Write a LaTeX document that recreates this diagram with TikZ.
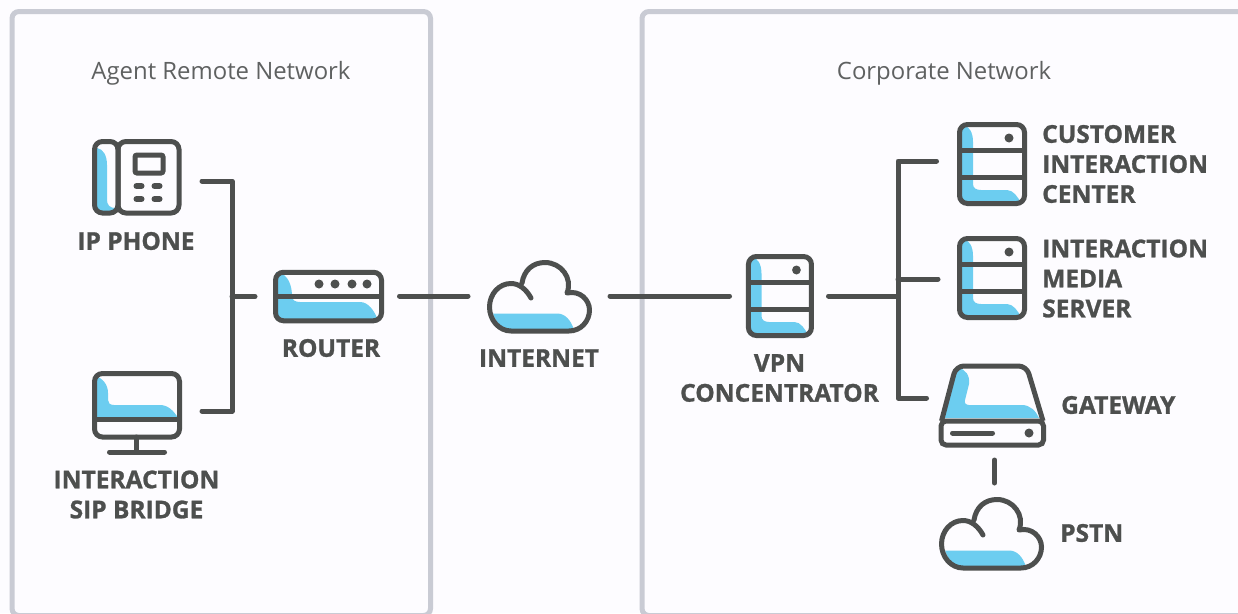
\documentclass[tikz,border=0pt]{standalone}
\usepackage{fontspec}
\setmainfont{Open Sans}
\newfontfamily\heavyfont{Open Sans}[BoldFeatures={FakeBold=1.1}]
\definecolor{ink}{HTML}{4D4F4E}
\definecolor{skyfill}{HTML}{6CCDF0}
\definecolor{panelgrey}{HTML}{C9CBD4}
\definecolor{titlegrey}{HTML}{5F6161}
\definecolor{paper}{HTML}{FDFCFF}
\tikzset{
    wire/.style={ink, line width=5pt, line cap=round, line join=round},
    outline/.style={draw=ink, line width=5pt, rounded corners=8pt},
    thinrule/.style={ink, line width=5pt},
    panel/.style={draw=panelgrey, line width=5pt, rounded corners=7pt},
    nettitle/.style={text=titlegrey, font=\fontsize{23.9}{28}\selectfont},
    devlabel/.style={text=ink, font=\fontsize{24.5}{30}\selectfont\heavyfont\bfseries, inner sep=0pt},
    pics/servericon/.style={code={
        \fill[skyfill] (3,3) -- (6,3) .. controls (12,4) and (16,10) .. (16,20) -- (16,62)
            .. controls (16,66) and (19,68) .. (24,68) -- (50,68)
            .. controls (56,68) and (61,75) .. (64,81) -- (3,81) -- cycle;
        \draw[outline] (2.5,2.5) rectangle (67.5,81.5);
        \draw[thinrule] (2.5,28) -- (67.5,28);
        \draw[thinrule] (2.5,55) -- (67.5,55);
        \fill[ink] (52,16) circle (4.5);
    }},
    pics/cloudicon/.style={code={
        \fill[skyfill] (6,53.5) -- (70,53.5) .. controls (78,53.5) and (84,60) .. (87,70)
            -- (24,70) .. controls (15,70) and (9,62) .. (6,53.5) -- cycle;
        \draw[wire] (44,38) .. controls (39,29) and (32,23.5) .. (24,23.5)
            .. controls (12,23.5) and (2.5,34) .. (2.5,47)
            .. controls (2.5,60) and (12,71) .. (24,71) -- (82,71)
            .. controls (94,71) and (102.5,61) .. (102.5,50)
            .. controls (102.5,40) and (93,30) .. (80,33)
            .. controls (86,18) and (74,2.5) .. (58,2.5)
            .. controls (46,2.5) and (37,10) .. (35,23);
    }}
}
\begin{document}
\begin{tikzpicture}[x=1pt, y=-1pt]
    \clip (0,0) rectangle (1238,613);
    \fill[paper] (0,0) rectangle (1238,613);

    \draw[panel] (12,11.5) rectangle (430.5,615.5);
    \draw[panel] (642,11.5) rectangle (1260,615.5);

    \node[nettitle] (agenttitle) at (221,73) {Agent Remote Network};
    \node[nettitle] (corptitle) at (944,73) {Corporate Network};

    % ip phone
    \fill[skyfill] (97,148) .. controls (103,149) and (107,155) .. (107,165) -- (107,200)
        .. controls (107,205) and (110,208) .. (115,208) -- (115,211) -- (97,211) -- cycle;
    \draw[outline] (94.5,141.5) rectangle (118,213);
    \draw[outline] (118,141.5) rectangle (179,213);
    \draw[draw=ink, line width=5pt, rounded corners=2pt] (135,155) rectangle (163,173);
    \foreach \bx in {139,157} {
        \foreach \by in {186,199} {
            \draw[ink, line width=6pt, line cap=round] (\bx-2.5,\by) -- (\bx+2.5,\by);
        }
    }
    \node[devlabel] (phonelabel) at (136,241) {IP PHONE};

    % sip bridge
    \fill[skyfill] (95,376) .. controls (103,378) and (108,385) .. (108,393) -- (108,400)
        .. controls (108,403) and (110,405) .. (114,405) -- (160,405)
        .. controls (168,405) and (174,411) .. (178,418) -- (95,418) -- cycle;
    \draw[outline] (94.5,373.5) rectangle (179.5,437);
    \draw[thinrule] (94.5,419.5) -- (179.5,419.5);
    \draw[wire] (136,437) -- (136,452);
    \draw[wire] (109.5,452) -- (164.5,452);
    \node[devlabel, align=center] (bridgelabel) at (136.5,494.5) {INTERACTION\\SIP BRIDGE};

    % router
    \fill[skyfill] (276,272) .. controls (285,273) and (291,280) .. (292,294) -- (292,296)
        .. controls (292,300) and (295,302) .. (300,302) -- (360,302)
        .. controls (368,302) and (374,310) .. (378,320) -- (276,320) -- cycle;
    \node[outline, minimum width=106pt, minimum height=48.5pt] (router) at (328.5,296.5) {};
    \draw[thinrule] (router.west) -- (router.east);
    \foreach \dx in {319,335,352,367} {
        \fill[ink] (\dx,284) circle (4.5);
    }
    \node[devlabel] (routerlabel) at (331,348) {ROUTER};

    % internet
    \pic (internet) at (487,260) {cloudicon};
    \node[devlabel] (internetlabel) at (539,358) {INTERNET};

    % vpn
    \pic[xscale=0.97] (vpn) at (746,254) {servericon};
    \node[devlabel, align=center] (vpnlabel) at (779.5,378) {VPN\\CONCENTRATOR};

    % servers
    \pic (cic) at (957,122) {servericon};
    \node[devlabel, align=left, anchor=west] (ciclabel) at (1042,164) {CUSTOMER\\INTERACTION\\CENTER};
    \pic (media) at (957,236) {servericon};
    \node[devlabel, align=left, anchor=west] (medialabel) at (1042,278.5) {INTERACTION\\MEDIA\\SERVER};

    % gateway
    \fill[skyfill] (958,368) .. controls (966,369) and (970,376) .. (969,384) -- (965,400)
        .. controls (964,403) and (966,405) .. (969,405) -- (1022,405)
        .. controls (1030,405) and (1036,411) .. (1039,418) -- (943,418) -- cycle;
    \draw[outline] (941.5,421) -- (956,366) -- (1026.5,366) -- (1043,421);
    \draw[outline, rounded corners=5pt] (941,421) rectangle (1043.5,445);
    \draw[wire] (952.5,433) -- (992.5,433);
    \fill[ink] (1029,433) circle (4.5);
    \node[devlabel, anchor=west] (gatewaylabel) at (1061,405) {GATEWAY};

    % pstn
    \pic (pstn) at (939,497) {cloudicon};
    \node[devlabel, anchor=west] (pstnlabel) at (1060,533) {PSTN};

    % connectors
    \coordinate (phoneport) at (202,181);
    \coordinate (bridgeport) at (202,411);
    \coordinate (leftturn) at (232,181);
    \coordinate (leftdown) at (232,411);
    \coordinate (lefthub) at (232,296.5);
    \coordinate (routerout) at (399.5,296);
    \coordinate (cloudin) at (468,296);
    \coordinate (cloudout) at (610,296);
    \coordinate (vpnin) at (729.5,296);
    \coordinate (vpnout) at (828.5,296);
    \coordinate (righthub) at (898,296);
    \coordinate (cicport) at (936.5,161);
    \coordinate (mediahub) at (898,279);
    \coordinate (mediaport) at (938,279);
    \coordinate (gateport) at (926.5,398);
    \coordinate (gatedown) at (994.5,460);
    \coordinate (pstnup) at (994.5,483);
    \draw[wire] (phoneport) -- (leftturn) -- (leftdown) -- (bridgeport);
    \draw[wire, shorten >=18pt] (lefthub) -- (router.west);
    \draw[wire] (routerout) -- (cloudin);
    \draw[wire] (cloudout) -- (vpnin);
    \draw[wire] (vpnout) -- (righthub);
    \draw[wire] (cicport) -| (righthub) |- (gateport);
    \draw[wire] (mediahub) -- (mediaport);
    \draw[wire] (gatedown) -- (pstnup);
\end{tikzpicture}
\end{document}
